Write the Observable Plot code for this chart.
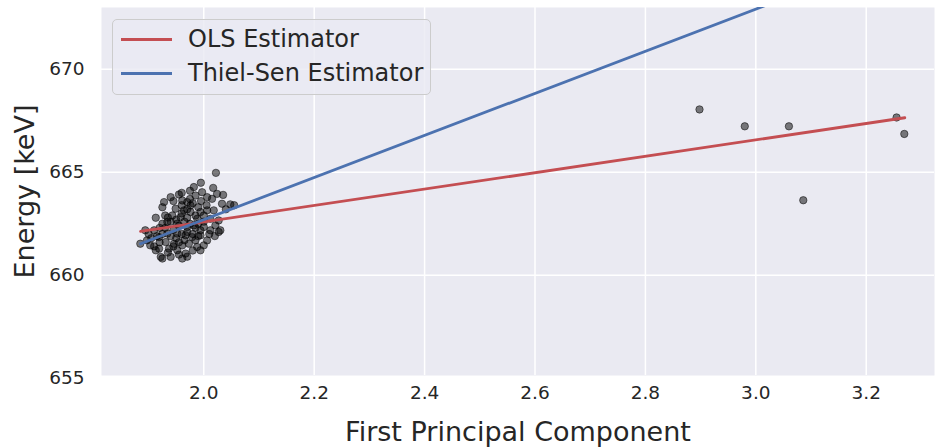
<!DOCTYPE html>
<html>
<head>
<meta charset="utf-8">
<script src="https://cdn.jsdelivr.net/npm/d3@7"></script>
<script src="https://cdn.jsdelivr.net/npm/@observablehq/plot@0.6"></script>
<style>
  html, body { margin: 0; padding: 0; background: #fff; }
  #wrap { position: relative; width: 935px; height: 447px; font-family: "DejaVu Sans", sans-serif; }
  #legend { position: absolute; left: 112px; top: 19px; width: 319px; height: 76px; box-sizing: border-box;
    background: rgba(234,234,242,0.8); border: 1px solid #cccccc; border-radius: 5px; }
  .item { position: absolute; left: 0; height: 30px; display: flex; align-items: center; }
  .swatch { position: absolute; left: 8px; width: 51px; height: 3px; }
  .ltext { position: absolute; left: 75px; font-size: 24px; color: #262626; white-space: nowrap; line-height: 1; }
</style>
</head>
<body>
<div id="wrap"></div>
<script>
// Scatter data (first principal component vs energy)
const clusterX = [2.022,1.9947,1.982,2.017,2.024,1.997,1.985,1.955,1.940,1.928,1.961,1.970,1.976,2.006,2.015,2.033,2.048,2.018,2.006,1.994,1.976,1.964,1.949,1.943,1.913,1.958,1.970,1.988,2.012,2.027,2.021,2.000,1.982,1.970,1.952,1.934,1.925,1.910,1.894,1.885,1.897,1.903,1.919,1.934,1.952,1.967,1.979,1.994,2.006,2.000,1.988,1.973,1.961,1.946,1.931,1.919,1.913,1.922,1.925,1.940,1.961,1.967,1.952,1.937,1.994,2.027,2.030,2.012,1.994,
  1.945,1.955,1.960,1.965,1.970,1.975,1.980,1.985,1.950,1.940,1.930,1.925,1.960,1.970,1.980,1.990,1.965,1.955,1.945,1.935,1.920,1.915,1.905,1.900,1.985,1.990,2.000,2.005,1.995,1.975,1.960,1.950,1.940,1.930,1.920,1.910,1.980,1.970,1.955,2.010,2.020,2.040,2.055,2.035,1.975,1.960,1.945,1.925,1.935,1.985,1.990,2.000];
const clusterY = [664.97,664.49,664.28,664.24,663.95,664.03,663.87,663.92,663.79,663.55,663.63,663.55,663.39,663.79,663.71,663.47,663.44,663.15,663.15,663.07,663.07,663.15,663.23,662.90,662.79,662.82,662.79,662.74,662.74,662.66,662.42,662.34,662.42,662.34,662.50,662.58,662.50,662.18,662.18,661.53,661.69,661.45,661.85,662.02,662.02,661.94,661.85,661.94,661.69,661.45,661.37,661.53,661.45,661.53,661.61,661.29,661.21,660.89,660.81,660.89,660.81,661.05,661.21,661.29,661.21,662.10,662.18,662.18,662.18,
  662.2,662.4,662.0,662.6,662.1,662.5,662.0,662.9,661.8,661.9,662.3,662.0,663.0,663.2,663.5,663.3,661.7,661.6,661.4,661.1,661.6,661.9,661.8,662.0,661.7,662.5,662.9,663.4,663.6,663.7,663.4,662.7,662.6,662.9,662.3,661.4,661.2,660.9,661.0,662.0,661.9,663.2,663.4,663.9,664.1,664.0,663.6,663.3,662.8,662.3,661.9,662.6];
const outlierX = [2.898,2.980,3.060,3.086,3.255,3.269];
const outlierY = [668.05,667.23,667.23,663.64,667.66,666.86];

// Fitted estimators (slope, intercept) and line extent
const estimators = ["OLS Estimator", "Thiel-Sen Estimator"];
const slopes = [3.983, 10.22];
const intercepts = [654.622, 642.26];
const lineExtent = [1.8854, 3.2699];
const colors = ["#C44E52", "#4C72B0"];

const xTicks = [2.0, 2.2, 2.4, 2.6, 2.8, 3.0, 3.2];
const yTicks = [655, 660, 665, 670];

const points = clusterX.map((x, i) => ({x, y: clusterY[i]}))
  .concat(outlierX.map((x, i) => ({x, y: outlierY[i]})));
const lines = [];
estimators.forEach((name, k) => {
  lineExtent.forEach(x => lines.push({name, x, y: intercepts[k] + slopes[k] * x}));
});

const font = "DejaVu Sans, sans-serif";
const chart = Plot.plot({
  width: 935,
  height: 447,
  marginLeft: 101,
  marginRight: 1,
  marginTop: 7,
  marginBottom: 72,
  style: {fontFamily: font, background: "#ffffff", color: "#262626"},
  x: {domain: [1.8147, 3.3237]},
  y: {domain: [655.13, 673]},
  color: {domain: estimators, range: colors},
  marks: [
    Plot.frame({fill: "#EAEAF2", stroke: null}),
    Plot.gridX(xTicks, {stroke: "white", strokeOpacity: 1, strokeWidth: 1.5}),
    Plot.gridY(yTicks, {stroke: "white", strokeOpacity: 1, strokeWidth: 1.5}),
    Plot.axisX(xTicks, {tickSize: 0, tickPadding: 10, fontSize: 18.5, label: null, tickFormat: d => d.toFixed(1), fill: "#262626"}),
    Plot.axisY(yTicks, {tickSize: 0, tickPadding: 17, fontSize: 18.5, label: null, tickFormat: d => String(d), fill: "#262626"}),
    Plot.dot(points, {x: "x", y: "y", r: 3.7, fill: "black", fillOpacity: 0.5, stroke: "black", strokeOpacity: 0.5, strokeWidth: 1}),
    Plot.line(lines, {x: "x", y: "y", z: "name", stroke: "name", strokeWidth: 2.8, clip: true}),
    Plot.text(["First Principal Component"], {frameAnchor: "bottom", dy: 65, text: d => d, fontSize: 27, fill: "#262626"}),
    Plot.text(["Energy [keV]"], {frameAnchor: "left", textAnchor: "middle", dx: -76, rotate: -90, text: d => d, fontSize: 27, fill: "#262626"})
  ]
});

const wrap = document.getElementById("wrap");
wrap.appendChild(chart);

const legend = document.createElement("div");
legend.id = "legend";
estimators.forEach((name, k) => {
  const item = document.createElement("div");
  item.className = "item";
  item.style.top = (k === 0 ? 4 : 38) + "px";
  item.style.width = "100%";
  const sw = document.createElement("div");
  sw.className = "swatch";
  sw.style.background = colors[k];
  sw.style.top = "14px";
  const tx = document.createElement("div");
  tx.className = "ltext";
  tx.textContent = name;
  item.appendChild(sw);
  item.appendChild(tx);
  legend.appendChild(item);
});
wrap.appendChild(legend);
</script>
</body>
</html>
